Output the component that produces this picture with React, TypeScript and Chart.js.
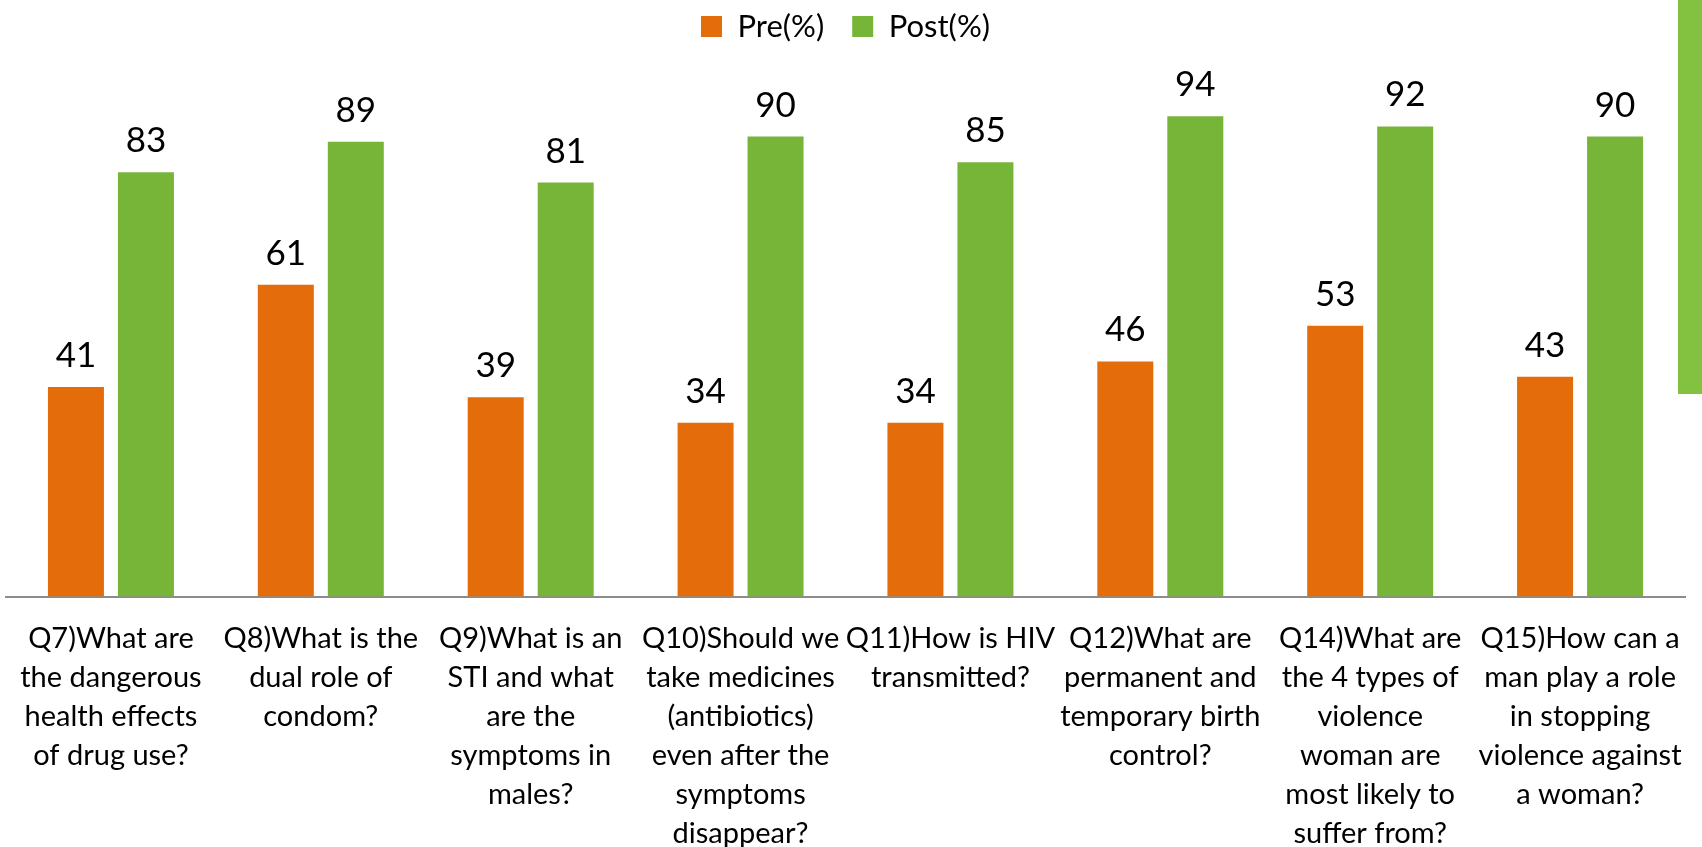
import React, { useEffect, useRef } from "react";
import { Chart, registerables } from "chart.js";

Chart.register(...registerables);

const categories: string[][] = [
  ["Q7)What are", "the dangerous", "health effects", "of drug use?"],
  ["Q8)What is the", "dual role of", "condom?"],
  ["Q9)What is an", "STI and what", "are the", "symptoms in", "males?"],
  ["Q10)Should we", "take medicines", "(antibiotics)", "even after the", "symptoms", "disappear?"],
  ["Q11)How is HIV", "transmitted?"],
  ["Q12)What are", "permanent and", "temporary birth", "control?"],
  ["Q14)What are", "the 4 types of", "violence", "woman are", "most likely to", "suffer from?"],
  ["Q15)How can a", "man play a role", "in stopping", "violence against", "a woman?"],
];

const preValues = [41, 61, 39, 34, 34, 46, 53, 43];
const postValues = [83, 89, 81, 90, 85, 94, 92, 90];

const PRE_COLOR = "#E46C0A";
const POST_COLOR = "#77B539";
const FONT = "Lato";

const valueLabelPlugin = {
  id: "valueLabels",
  afterDatasetsDraw(chart: any) {
    const ctx = chart.ctx;
    ctx.save();
    ctx.font = `35px ${FONT}`;
    ctx.fillStyle = "#000000";
    ctx.textAlign = "center";
    ctx.textBaseline = "alphabetic";
    chart.data.datasets.forEach((ds: any, di: number) => {
      const meta = chart.getDatasetMeta(di);
      meta.data.forEach((bar: any, i: number) => {
        ctx.fillText(String(ds.data[i]), bar.x, bar.y - 20);
      });
    });
    ctx.restore();
  },
};

export default function App() {
  const canvasRef = useRef<HTMLCanvasElement | null>(null);

  useEffect(() => {
    if (!canvasRef.current) return;
    const chart = new Chart(canvasRef.current, {
      type: "bar",
      data: {
        labels: categories,
        datasets: [
          {
            label: "Pre(%)",
            data: preValues,
            backgroundColor: PRE_COLOR,
            borderWidth: 0,
            categoryPercentage: 0.667,
            barPercentage: 0.8,
          },
          {
            label: "Post(%)",
            data: postValues,
            backgroundColor: POST_COLOR,
            borderWidth: 0,
            categoryPercentage: 0.667,
            barPercentage: 0.8,
          },
        ],
      },
      options: {
        responsive: false,
        animation: false,
        layout: { padding: { left: 6, right: 17, top: -17, bottom: 0 } },
        plugins: {
          legend: {
            display: true,
            position: "top",
            weight: 1000,
            labels: {
              boxWidth: 21,
              boxHeight: 21,
              padding: 28,
              color: "#000000",
              font: { family: FONT, size: 31 },
            },
          },
          title: {
            display: true,
            text: "",
            position: "top",
            weight: 500,
            font: { size: 1, lineHeight: 1 },
            padding: { top: 32.5, bottom: 0 },
          },
          tooltip: { enabled: false },
        },
        scales: {
          x: {
            grid: { display: false, drawTicks: false },
            border: { display: true, color: "#8C8C8C", width: 2 },
            ticks: {
              color: "#000000",
              font: { family: FONT, size: 29, lineHeight: 39 / 29 },
              maxRotation: 0,
              minRotation: 0,
              autoSkip: false,
              padding: 22.5,
            },
            afterFit(scale: any) {
              scale.height = 847 - 596.5;
              scale.paddingLeft = 0;
              scale.paddingRight = 0;
            },
          },
          y: {
            display: false,
            min: 0,
            max: 100,
          },
        },
      },
      plugins: [valueLabelPlugin],
    });
    return () => chart.destroy();
  }, []);

  return (
    <div style={{ position: "fixed", left: 0, top: 0, width: 1702, height: 847, background: "#fff", overflow: "hidden" }}>
      <canvas ref={canvasRef} width={1702} height={847} style={{ display: "block" }} />
      <div style={{ position: "absolute", left: 1678, top: 0, width: 24, height: 394, background: "#83C141" }} />
    </div>
  );
}
